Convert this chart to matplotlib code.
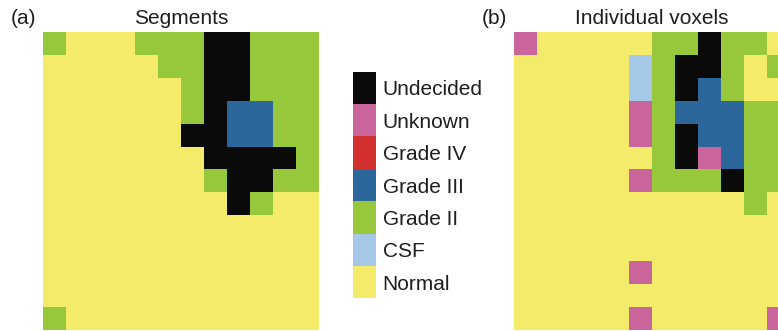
import matplotlib
matplotlib.use("Agg")
import matplotlib.pyplot as plt
import numpy as np
from matplotlib.colors import ListedColormap, BoundaryNorm

plt.rcParams["font.family"] = ["Liberation Sans", "DejaVu Sans"]

# Tissue classes (bottom to top in the legend) and their colours
class_names = ["Normal", "CSF", "Grade II", "Grade III", "Grade IV", "Unknown", "Undecided"]
class_colors = ["#F4EB6A", "#A5C7E8", "#97C83C", "#2C679C", "#D23130", "#CA659B", "#0A0A0A"]
class_codes = {"N": 0, "C": 1, "G": 2, "B": 3, "R": 4, "U": 5, "X": 6}

# Label maps, one character per voxel (rows top to bottom)
segments_map = [
    "GNNNGGGXXGGG",
    "NNNNNGGXXGGG",
    "NNNNNNGXXGGG",
    "NNNNNNGXBBGG",
    "NNNNNNXXBBGG",
    "NNNNNNNXXXXG",
    "NNNNNNNGXXGG",
    "NNNNNNNNXGNN",
    "NNNNNNNNNNNN",
    "NNNNNNNNNNNN",
    "NNNNNNNNNNNN",
    "NNNNNNNNNNNN",
    "GNNNNNNNNNNN",
]

voxels_map = [
    "UNNNNNGGXGGN",
    "NNNNNCGXXGNG",
    "NNNNNCGXBGNN",
    "NNNNNUGBBBGG",
    "NNNNNUGXBBGG",
    "NNNNNNGXUBGG",
    "NNNNNUGGGXGG",
    "NNNNNNNNNNGN",
    "NNNNNNNNNNNN",
    "NNNNNNNNNNNN",
    "NNNNNUNNNNNN",
    "NNNNNNNNNNNN",
    "NNNNNUNNNNNU",
]

panel_titles = ["Segments", "Individual voxels"]
panel_tags = ["(a)", "(b)"]


def to_array(rows):
    return np.array([[class_codes[c] for c in r] for r in rows])


cmap = ListedColormap(class_colors)
norm = BoundaryNorm(np.arange(-0.5, len(class_names) + 0.5, 1), cmap.N)

W, H = 778, 331
fig = plt.figure(figsize=(W / 100, H / 100), dpi=100)

cell = 22.92
panel_left = [43.3, 514.3]
panel_top = 32.3
text_color = "#1E1E1E"

for left, grid, title, tag in zip(panel_left, [segments_map, voxels_map], panel_titles, panel_tags):
    data = to_array(grid)
    nr, nc = data.shape
    ax = fig.add_axes([left / W, 1 - (panel_top + nr * cell) / H, nc * cell / W, nr * cell / H])
    ax.imshow(data, cmap=cmap, norm=norm, interpolation="nearest", aspect="auto")
    ax.set_axis_off()
    ax.set_title(title, fontsize=15, pad=6, color=text_color)
    fig.text((left - 33) / W, 1 - 24.5 / H, tag, fontsize=15, va="baseline", color=text_color)

# Discrete legend bar
cax = fig.add_axes([352.7 / W, 1 - 298.3 / H, 23 / W, 226.6 / H])
sm = plt.cm.ScalarMappable(cmap=cmap, norm=norm)
cb = fig.colorbar(sm, cax=cax, ticks=np.arange(len(class_names)))
cb.ax.minorticks_off()
cb.ax.set_yticklabels(class_names)
cb.ax.tick_params(which="both", length=0, labelsize=15, pad=5, labelcolor=text_color)
cb.outline.set_visible(False)

fig.savefig("out.png", dpi=100)
